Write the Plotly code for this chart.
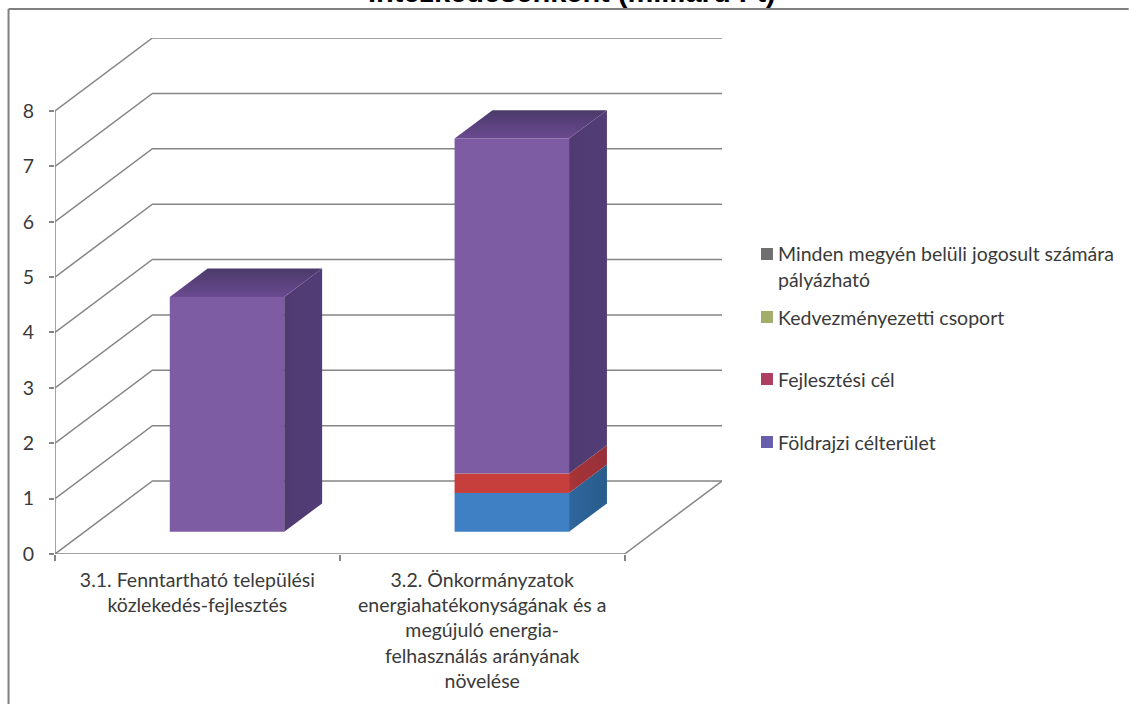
import plotly.graph_objects as go

# --- data ---
categories = ["3.1. Fenntartható települési<br>közlekedés-fejlesztés",
              "3.2. Önkormányzatok<br>energiahatékonyságának és a<br>megújuló energia-<br>felhasználás arányának<br>növelése"]
foldrajzi = [0.0, 0.70]
fejlesztesi = [0.0, 0.35]
kedvezmenyezetti = [0.0, 0.0]
minden = [4.24, 6.05]
y_ticks = [0, 1, 2, 3, 4, 5, 6, 7, 8]
legend_names = ["Minden megyén belüli jogosult számára", "pályázható", "Kedvezményezetti csoport", "Fejlesztési cél", "Földrajzi célterület"]
title = "Intézkedésenként (milliárd Ft)"

# series stack (bottom to top): values, front, side (near, far), top (back, front)
stack = [
    (foldrajzi, "#3f7fc4", ("#2f669c", "#285c8c"), ("#285c8c", "#2f669c")),
    (fejlesztesi, "#c63f3d", ("#a83436", "#96303a"), ("#96303a", "#a83436")),
    (kedvezmenyezetti, "#9bbb59", ("#71893f", "#71893f"), ("#71893f", "#71893f")),
    (minden, "#7d5ca3", ("#4f3a70", "#533d78"), ("#4b3a6a", "#6a4a90")),
]

# --- oblique projection in axis units ---
W, H = 1129, 704
L, R, T, B = 54.5, 407, 38, 150
WALL_DX, WALL_DY = 0.342, 1.318
FRONT_DX, FRONT_DY = 0.104, 0.403
BAR_DX, BAR_DY = 0.133, 0.511
BAR_W = 0.402
GRID = "#858585"
TXT = "#3a3a3a"
FONT = "Lato"
FS = 19.5

def px(xp, yp):
    return (xp - L) / (W - L - R), (H - B - yp) / (H - T - B)

fig = go.Figure()
centers = [0.5 + i + FRONT_DX for i in range(len(categories))]
bottom = [FRONT_DY] * len(categories)
tops = list(bottom)

for vals, front, side, topc in stack:
    fig.add_trace(go.Bar(x=centers, y=vals, base=list(bottom), width=BAR_W,
                         marker=dict(color=front, line=dict(width=0)), showlegend=False))
    for i, c in enumerate(centers):
        if vals[i] > 0:
            xr = c + BAR_W / 2
            y0, y1 = bottom[i], bottom[i] + vals[i]
            fig.add_trace(go.Scatter(
                x=[xr, xr + BAR_DX, xr + BAR_DX, xr, xr],
                y=[y0, y0 + BAR_DY, y1 + BAR_DY, y1, y0],
                mode="lines", fill="toself",
                fillgradient=dict(type="horizontal", colorscale=[[0, side[0]], [1, side[1]]]),
                line=dict(width=0), showlegend=False))
            tops[i] = (y1, topc)
    bottom = [b + v for b, v in zip(bottom, vals)]

for i, c in enumerate(centers):
    y1, topc = tops[i]
    xl, xr = c - BAR_W / 2, c + BAR_W / 2
    fig.add_trace(go.Scatter(
        x=[xl, xr, xr + BAR_DX, xl + BAR_DX, xl],
        y=[y1, y1, y1 + BAR_DY, y1 + BAR_DY, y1],
        mode="lines", fill="toself",
        fillgradient=dict(type="vertical", colorscale=[[0, topc[1]], [1, topc[0]]]),
        line=dict(width=0), showlegend=False))

shapes = []
line = dict(color=GRID, width=1.5)
for v in y_ticks:
    shapes.append(dict(type="path", layer="below", xref="x", yref="y", line=line,
                       path=f"M 0 {v} L {WALL_DX} {v + WALL_DY} L {2 + WALL_DX} {v + WALL_DY}"))
shapes += [
    dict(type="line", layer="below", xref="x", yref="y", x0=0, x1=0, y0=0, y1=8, line=line),
    dict(type="line", layer="below", xref="x", yref="y", x0=0, x1=2, y0=0, y1=0, line=line),
    dict(type="line", layer="below", xref="x", yref="y", x0=2, x1=2 + WALL_DX, y0=0, y1=WALL_DY, line=line),
]
# chart frame
x0, y0 = px(8, 9)
x1, y1 = px(1129, 704)
frame = dict(color="#7f7f7f", width=2)
shapes.append(dict(type="line", xref="paper", yref="paper", x0=x0, x1=x1, y0=y0, y1=y0, line=frame))
shapes.append(dict(type="line", xref="paper", yref="paper", x0=x0, x1=x0, y0=y0, y1=y1, line=frame))

# legend
annotations = []
leg_swatch = ["#6f6f6f", None, "#a3ad6b", "#ad3f62", "#675fac"]
leg_y = [254, 279, 317, 379, 442]
for name, col, yp in zip(legend_names, leg_swatch, leg_y):
    xa, ya = px(776, yp)
    annotations.append(dict(text=name, xref="paper", yref="paper", x=xa, y=ya, xanchor="left", yanchor="middle",
                            showarrow=False, font=dict(family=FONT, size=FS, color=TXT)))
    if col:
        sx0, sy0 = px(761, yp - 6)
        sx1, sy1 = px(773, yp + 6)
        shapes.append(dict(type="rect", xref="paper", yref="paper", x0=sx0, x1=sx1, y0=sy0, y1=sy1,
                           fillcolor=col, line=dict(width=0)))

tx, ty = px(572, 10.5)
annotations.append(dict(text=f"<b>{title}</b>", xref="paper", yref="paper", x=tx, y=ty, xanchor="center", yanchor="bottom",
                        showarrow=False, font=dict(family="Liberation Sans", size=29, color="#000000")))

fig.update_layout(
    width=W, height=H, margin=dict(l=L, r=R, t=T, b=B, pad=0),
    paper_bgcolor="white", plot_bgcolor="white", barmode="overlay", showlegend=False,
    shapes=shapes, annotations=annotations,
    xaxis=dict(range=[0, 2 + WALL_DX], tickvals=[0.5, 1.5], ticktext=categories, ticklen=0, ticks="",
               showgrid=False, zeroline=False, showline=False, tickangle=0,
               ticklabelstandoff=12, tickfont=dict(family=FONT, size=FS, color=TXT),
               minor=dict(tickvals=[0, 1, 2], ticks="outside", ticklen=6, tickcolor=GRID, tickwidth=1.5, showgrid=False)),
    yaxis=dict(range=[0, 8 + WALL_DY], tickvals=y_ticks, ticks="outside", ticklen=5, tickcolor=GRID, tickwidth=1.5,
               showgrid=False, zeroline=False, showline=False,
               ticklabelstandoff=11, tickfont=dict(family=FONT, size=FS, color=TXT)),
)
fig.write_html("out.html", config=dict(displayModeBar=False), post_script="document.body.style.margin='0';")
